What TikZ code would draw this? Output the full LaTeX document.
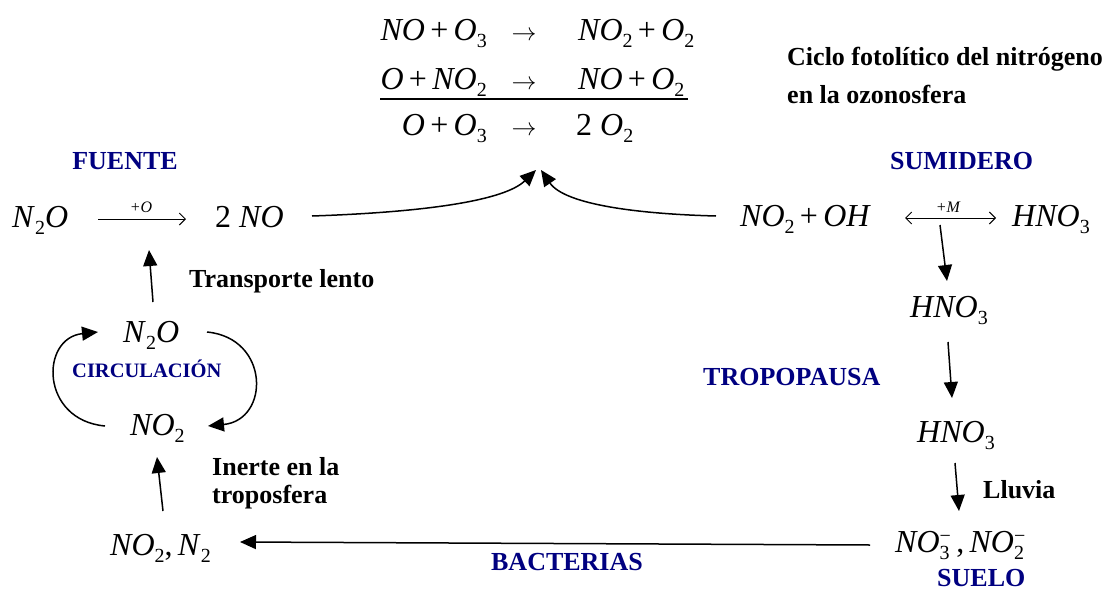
\documentclass[tikz,border=0pt]{standalone}
\usepackage{fontspec}
\setmainfont{Liberation Serif}
\usetikzlibrary{arrows.meta}
\definecolor{navyblue}{RGB}{0,0,128}
\newcommand{\sbs}[1]{\raisebox{-7.5pt}{\fontsize{20}{20}\selectfont #1}}
\newcommand{\sbsup}[2]{\makebox[0pt][l]{\raisebox{-7.5pt}{\fontsize{20}{20}\selectfont #1}}\raisebox{10pt}{\fontsize{20}{20}\selectfont #2}}
\newcommand{\rarr}{\ensuremath{\rightarrow}}
\tikzset{
  chem/.style={inner sep=0pt, font=\fontsize{32}{36}\selectfont},
  lbl/.style={inner sep=0pt, font=\fontsize{26}{30}\selectfont\bfseries, align=left},
  blbl/.style={lbl, text=navyblue},
  tiny/.style={inner sep=0pt, font=\fontsize{16}{18}\selectfont\itshape},
  fat/.style={-{Triangle[length=16pt,width=14pt]}, line width=1.5pt},
  thin/.style={-{Straight Barb[length=6pt,width=12pt]}, line width=1pt},
  dbl/.style={{Straight Barb[length=6pt,width=12pt]}-{Straight Barb[length=6pt,width=12pt]}, line width=1pt}
}
\begin{document}
\begin{tikzpicture}[x=1pt,y=-1pt]
\useasboundingbox (0,0) rectangle (1104,592);
% top equations
\node[chem, anchor=base east] (l1) at (487,40) {\textit{NO}\,+\,\textit{O}\sbs3};
\node[chem, anchor=base] (a1) at (524,40) {\rarr};
\node[chem, anchor=base west] (r1) at (578,40) {\textit{NO}\sbs2\,+\,\textit{O}\sbs2};
\node[chem, anchor=base east] (l2) at (487,89) {\textit{O}\,+\,\textit{NO}\sbs2};
\node[chem, anchor=base] (a2) at (524,89) {\rarr};
\node[chem, anchor=base west] (r2) at (578,89) {\textit{NO}\,+\,\textit{O}\sbs2};
\coordinate (rulel) at (380,99);
\coordinate (ruler) at (688,99);
\draw[line width=1.3pt] (rulel) -- (ruler);
\node[chem, anchor=base east] (l3) at (487,135) {\textit{O}\,+\,\textit{O}\sbs3};
\node[chem, anchor=base] (a3) at (524,135) {\rarr};
\node[chem, anchor=base west] (r3) at (576,135) {2 \textit{O}\sbs2};
\coordinate (apexl) at (536,170);
\coordinate (apexr) at (541,170);

% title
\node[lbl, anchor=base west] (title) at (787,65) {Ciclo fotolítico del nitrógeno};
\node[lbl, anchor=base west] (title2) at (787,103) {en la ozonosfera};

\node[blbl, anchor=base] (fuente) at (125,169) {FUENTE};
\node[blbl, anchor=base west] (sumidero) at (890,169) {SUMIDERO};

% middle row
\node[chem, anchor=base west] (n2o) at (12,227) {\textit{N}\sbs2\textit{O}};
\coordinate (pa) at (98,219);
\coordinate (pb) at (186,219);
\draw[thin] (pa) -- (pb);
\node[tiny, anchor=base] (plusO) at (141,212) {+O};
\node[chem, anchor=base west] (twono) at (215,227) {2 \textit{NO}};
\coordinate (cl) at (312,216);
\draw[fat] (cl) .. controls (430,212) and (505,200) .. (apexl);
\node[chem, anchor=base west] (no2oh) at (740,226) {\textit{NO}\sbs2\,+\,\textit{OH}};
\coordinate (cr) at (716,216);
\draw[fat] (cr) .. controls (640,214) and (565,205) .. (apexr);
\coordinate (da) at (905,218);
\coordinate (db) at (996,218);
\draw[dbl] (da) -- (db);
\node[tiny, anchor=base] (plusM) at (948,212) {+M};
\node[chem, anchor=base west] (hno3a) at (1012,226) {\textit{HNO}\sbs3};

% right column
\coordinate (d1a) at (940,225);
\coordinate (d1b) at (947,281);
\draw[fat] (d1a) -- (d1b);
\node[chem, anchor=base west] (hno3b) at (910,317) {\textit{HNO}\sbs3};
\coordinate (d2a) at (948,342);
\coordinate (d2b) at (952,398);
\draw[fat] (d2a) -- (d2b);
\node[blbl, anchor=base west] (tropo) at (703,385) {TROPOPAUSA};
\node[chem, anchor=base west] (hno3c) at (917,442) {\textit{HNO}\sbs3};
\coordinate (d3a) at (955,463);
\coordinate (d3b) at (959,511);
\draw[fat] (d3a) -- (d3b);
\node[lbl, anchor=base west] (lluvia) at (983,498) {Lluvia};
\node[chem, anchor=base west] (nox) at (895,552) {\textit{NO}\sbsup{3}{−}\,,\,\textit{NO}\sbsup{2}{−}};
\node[blbl, anchor=base west] (suelo) at (937,586) {SUELO};

% bottom
\coordinate (ba) at (870,545);
\coordinate (bb) at (240,542);
\draw[fat] (ba) -- (bb);
\node[blbl, anchor=base] (bact) at (567,570) {BACTERIAS};
\node[chem, anchor=base west] (no2n2) at (110,555) {\textit{NO}\sbs2,\,\textit{N}\sbs2};

% left column
\coordinate (u1a) at (163,511);
\coordinate (u1b) at (157,457);
\draw[fat] (u1a) -- (u1b);
\node[lbl, anchor=base west] (inerte) at (212,475) {Inerte en la};
\node[lbl, anchor=base west] (tropos) at (212,503) {troposfera};
\node[chem, anchor=base west] (no2) at (130,435) {\textit{NO}\sbs2};
\node[blbl, anchor=base west, font=\fontsize{20.5}{24}\selectfont\bfseries] (circ) at (72,377) {CIRCULACIÓN};
\node[chem, anchor=base west] (n2ob) at (123,342) {\textit{N}\sbs2\textit{O}};
\coordinate (cla) at (105,426);
\coordinate (clb) at (98,332);
\draw[fat] (cla) .. controls (40,420) and (40,338) .. (clb);
\coordinate (cra) at (207,332);
\coordinate (crb) at (208,426);
\draw[fat] (cra) .. controls (270,338) and (270,420) .. (crb);
\coordinate (u2a) at (153,302);
\coordinate (u2b) at (149,250);
\draw[fat] (u2a) -- (u2b);
\node[lbl, anchor=base west] (transp) at (189,287) {Transporte lento};
\end{tikzpicture}
\end{document}
